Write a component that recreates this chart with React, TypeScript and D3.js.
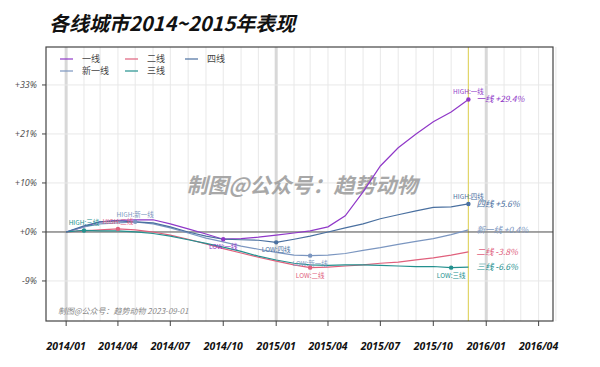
import React from "react";
import * as d3 from "d3";

// monthly index, 2014/01 = 1.0 (shown as % change)
const months = [
  "2014-01", "2014-02", "2014-03", "2014-04", "2014-05", "2014-06",
  "2014-07", "2014-08", "2014-09", "2014-10", "2014-11", "2014-12",
  "2015-01", "2015-02", "2015-03", "2015-04", "2015-05", "2015-06",
  "2015-07", "2015-08", "2015-09", "2015-10", "2015-11", "2015-12",
];

const seriesNames = ["一线", "新一线", "二线", "三线", "四线"];

const tier1 = [0, 1.0, 2.0, 2.3, 2.4, 2.4, 1.6, 0.6, -0.4, -1.4, -1.3, -1.0, -0.6, -0.2, 0.2, 1.0, 3.2, 8.1, 13.7, 17.8, 21.0, 23.9, 26.3, 29.4];
const newTier1 = [0, 1.0, 1.6, 1.8, 2.0, 1.6, 0.8, -0.2, -1.2, -1.9, -2.7, -3.3, -3.9, -4.4, -4.5, -4.4, -4.1, -3.5, -3.0, -2.4, -1.8, -1.3, -0.5, 0.4];
const tier2 = [0, 0.2, 0.4, 0.6, 0.4, 0.0, -0.6, -1.4, -2.3, -3.2, -4.0, -4.8, -5.5, -6.2, -6.7, -6.6, -6.4, -6.2, -5.9, -5.7, -5.3, -4.9, -4.4, -3.8];
const tier3 = [0, 0.3, 0.2, 0.2, 0.0, -0.3, -0.8, -1.5, -2.2, -2.9, -3.7, -4.6, -5.3, -5.9, -6.2, -6.3, -6.2, -6.2, -6.3, -6.4, -6.5, -6.5, -6.7, -6.6];
const tier4 = [0, 1.2, 2.0, 2.2, 2.0, 1.8, 1.0, 0.0, -0.8, -1.4, -1.5, -1.6, -2.0, -1.4, -0.8, 0.0, 0.8, 1.6, 2.6, 3.4, 4.2, 4.9, 5.0, 5.6];

const seriesValues = [tier1, newTier1, tier2, tier3, tier4];
const colors = ["#9038c8", "#7b96c0", "#e0607c", "#23908e", "#4a70a0"];

const yTicks = [-9.09, 0, 10, 21, 33.1];
const xTickLabels = [
  "2014-01", "2014-04", "2014-07", "2014-10", "2015-01", "2015-04",
  "2015-07", "2015-10", "2016-01", "2016-04",
];
const credit = "制图@公众号：趋势动物 2023-09-01";
const watermark = "制图@公众号：趋势动物";

const W = 600;
const H = 367;
const left = 46;
const right = 553;
const top = 47;
const bottom = 321;

const parse = d3.timeParse("%Y-%m");
const fmtTick = d3.timeFormat("%Y/%m");

const App = () => {
  const x = d3
    .scaleTime()
    .domain([new Date(2013, 10, 27), new Date(2016, 3, 26)])
    .range([left, right]);
  const y = d3.scaleLog().domain([0.841, 1.433]).range([bottom, top]);
  const yv = (v: number) => y(1 + v / 100);

  const dates = months.map((m) => parse(m) as Date);
  const line = d3
    .line<number>()
    .x((d, i) => x(dates[i]))
    .y((d) => yv(d));

  const gridMonths = d3.timeMonth.range(new Date(2014, 0, 1), new Date(2016, 4, 2));
  const lastDate = dates[dates.length - 1];
  const cjk = "'Noto Sans CJK SC', 'Noto Sans', sans-serif";

  return (
    <div style={{ position: "absolute", left: 0, top: 0 }}>
      <svg width={W} height={H} style={{ fontFamily: cjk, display: "block" }}>
        <rect width={W} height={H} fill="#fff" />
        <text x={49} y={31} fontSize={20} fontWeight="bold" fontStyle="italic" fill="#111">
          各线城市2014~2015年表现
        </text>

        {/* grid */}
        {gridMonths.map((d, i) => (
          <line
            key={"gv" + i}
            x1={x(d)}
            x2={x(d)}
            y1={top}
            y2={bottom}
            stroke={d.getMonth() === 0 ? "#d8d8d8" : "#e8e8e8"}
            strokeWidth={d.getMonth() === 0 ? 3 : 1}
          />
        ))}
        {yTicks.map((t, i) => (
          <line key={"gh" + i} x1={left} x2={right} y1={yv(t)} y2={yv(t)} stroke="#e8e8e8" />
        ))}

        <line x1={x(lastDate)} x2={x(lastDate)} y1={top} y2={bottom} stroke="#e2d66a" strokeWidth={1.2} />
        <line x1={left} x2={right} y1={yv(0)} y2={yv(0)} stroke="#555" strokeWidth={1} />

        <text
          x={302}
          y={193}
          textAnchor="middle"
          fontSize={21}
          fontWeight="bold"
          fontStyle="italic"
          fill="#9a9a9a"
          opacity={0.85}
        >
          {watermark}
        </text>

        {/* series */}
        {seriesValues.map((vals, s) => (
          <path key={"s" + s} d={line(vals) || ""} fill="none" stroke={colors[s]} strokeWidth={1.2} />
        ))}

        {/* high / low markers */}
        {seriesValues.map((vals, s) => {
          const hi = d3.maxIndex(vals.slice(1)) + 1;
          const lo = d3.minIndex(vals);
          return (
            <g key={"m" + s} fill={colors[s]} fontSize={6.5} textAnchor="middle">
              <circle cx={x(dates[hi])} cy={yv(vals[hi])} r={2.2} />
              <text x={x(dates[hi])} y={yv(vals[hi]) - 5}>
                {"HIGH:" + seriesNames[s]}
              </text>
              <circle cx={x(dates[lo])} cy={yv(vals[lo])} r={2.2} />
              <text x={x(dates[lo])} y={yv(vals[lo]) + 10}>
                {"LOW:" + seriesNames[s]}
              </text>
            </g>
          );
        })}

        {/* end labels */}
        {seriesValues.map((vals, s) => {
          const v = vals[vals.length - 1];
          return (
            <text
              key={"e" + s}
              x={x(lastDate) + 8}
              y={yv(v)}
              dy="0.35em"
              fontSize={8.5}
              fontStyle="italic"
              fill={colors[s]}
            >
              {seriesNames[s] + " " + (v >= 0 ? "+" : "") + v.toFixed(1) + "%"}
            </text>
          );
        })}

        {/* frame */}
        <rect x={left} y={top} width={right - left} height={bottom - top} fill="none" stroke="#444" strokeWidth={1.2} />

        {/* y axis */}
        {yTicks.map((t, i) => (
          <g key={"yt" + i}>
            <line x1={left - 4} x2={left} y1={yv(t)} y2={yv(t)} stroke="#444" />
            <text
              x={left - 9}
              y={yv(t)}
              dy="0.35em"
              textAnchor="end"
              fontSize={9}
              fontStyle="italic"
              fill="#555"
              fontFamily="'Noto Sans', sans-serif"
            >
              {(t >= 0 ? "+" : "") + Math.round(t) + "%"}
            </text>
          </g>
        ))}

        {/* x axis */}
        {xTickLabels.map((m, i) => {
          const d = parse(m) as Date;
          return (
            <g key={"xt" + i}>
              <line x1={x(d)} x2={x(d)} y1={bottom} y2={bottom + 5} stroke="#444" />
              <text
                x={x(d)}
                y={350}
                textAnchor="middle"
                fontSize={10.5}
                fontWeight="bold"
                fontStyle="italic"
                fill="#111"
                fontFamily="'Noto Sans', sans-serif"
              >
                {fmtTick(d)}
              </text>
            </g>
          );
        })}

        <text x={58} y={314} fontSize={8} fontStyle="italic" fill="#888">
          {credit}
        </text>

        {/* legend */}
        {seriesNames.map((n, s) => {
          const col = Math.floor(s / 2);
          const row = s % 2;
          const lx = [60, 125, 185][col];
          const ly = 59 + row * 12;
          return (
            <g key={"l" + s}>
              <line x1={lx} x2={lx + 13} y1={ly} y2={ly} stroke={colors[s]} strokeWidth={1.2} />
              <text x={lx + 22} y={ly} dy="0.35em" fontSize={9} fill="#444">
                {n}
              </text>
            </g>
          );
        })}
      </svg>
    </div>
  );
};

export default App;
